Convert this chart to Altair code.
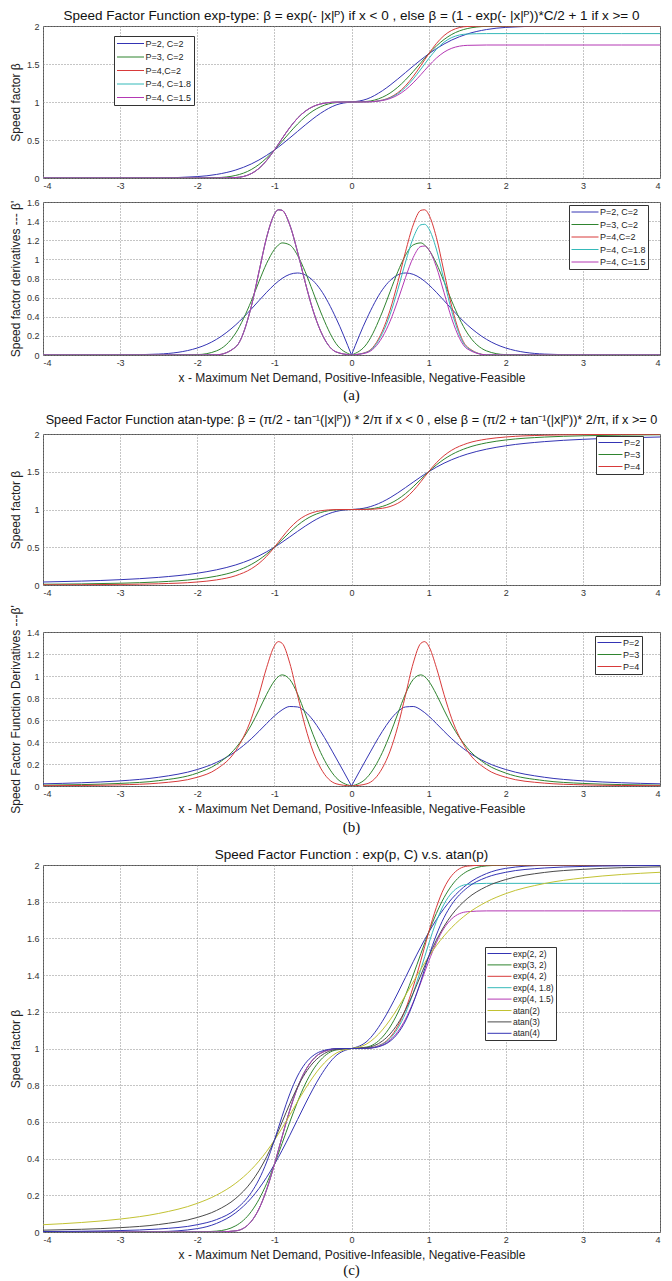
import altair as alt
import pandas as pd

# x grid (shared by every curve)
X = [-4, -3.5, -3, -2.5, -2, -1.75, -1.5, -1.3, -1.2, -1.1, -1, -0.95, -0.9, -0.8, -0.7, -0.6, -0.5, -0.4, -0.2, 0,
     0.2, 0.4, 0.5, 0.6, 0.7, 0.8, 0.9, 0.95, 1, 1.1, 1.2, 1.3, 1.5, 1.75, 2, 2.5, 3, 3.5, 4]

# (a) exp-type speed factor
EXP_P2_C2 = [0, 0, 0.0001, 0.0019, 0.0183, 0.0468, 0.1054, 0.1845, 0.2369, 0.2982, 0.3679, 0.4056, 0.4449, 0.5273, 0.6126, 0.6977, 0.7788, 0.8521, 0.9608, 1,
             1.0392, 1.1479, 1.2212, 1.3023, 1.3874, 1.4727, 1.5551, 1.5944, 1.6321, 1.7018, 1.7631, 1.8155, 1.8946, 1.9532, 1.9817, 1.9981, 1.9999, 2, 2]
EXP_P3_C2 = [0, 0, 0, 0, 0.0003, 0.0047, 0.0342, 0.1111, 0.1776, 0.2642, 0.3679, 0.4243, 0.4824, 0.5993, 0.7096, 0.8057, 0.8825, 0.9380, 0.9920, 1,
             1.0080, 1.0620, 1.1175, 1.1943, 1.2904, 1.4007, 1.5176, 1.5757, 1.6321, 1.7358, 1.8224, 1.8889, 1.9658, 1.9953, 1.9997, 2, 2, 2, 2]
EXP_P4_C2 = [0, 0, 0, 0, 0, 0.0001, 0.0063, 0.0575, 0.1257, 0.2313, 0.3679, 0.4428, 0.5189, 0.6639, 0.7866, 0.8784, 0.9394, 0.9747, 0.9984, 1,
             1.0016, 1.0253, 1.0606, 1.1216, 1.2134, 1.3361, 1.4811, 1.5572, 1.6321, 1.7687, 1.8743, 1.9425, 1.9937, 1.9999, 2, 2, 2, 2, 2]
EXP_P4_C18 = [0, 0, 0, 0, 0, 0.0001, 0.0063, 0.0575, 0.1257, 0.2313, 0.3679, 0.4428, 0.5189, 0.6639, 0.7866, 0.8784, 0.9394, 0.9747, 0.9984, 1,
              1.0014, 1.0228, 1.0545, 1.1094, 1.1921, 1.3025, 1.4330, 1.5015, 1.5689, 1.6918, 1.7869, 1.8483, 1.8943, 1.8999, 1.9, 1.9, 1.9, 1.9, 1.9]
EXP_P4_C15 = [0, 0, 0, 0, 0, 0.0001, 0.0063, 0.0575, 0.1257, 0.2313, 0.3679, 0.4428, 0.5189, 0.6639, 0.7866, 0.8784, 0.9394, 0.9747, 0.9984, 1,
              1.0012, 1.0190, 1.0455, 1.0912, 1.1601, 1.2521, 1.3608, 1.4179, 1.4741, 1.5765, 1.6557, 1.7069, 1.7453, 1.7499, 1.75, 1.75, 1.75, 1.75, 1.75]

# (a) exp-type derivatives
DEXP_P2_C2 = [0, 0, 0.0007, 0.0097, 0.0733, 0.1638, 0.3162, 0.4797, 0.5686, 0.6560, 0.7358, 0.7706, 0.8008, 0.8437, 0.8576, 0.8372, 0.7788, 0.6817, 0.3843, 0,
              0.3843, 0.6817, 0.7788, 0.8372, 0.8576, 0.8437, 0.8008, 0.7706, 0.7358, 0.6560, 0.5686, 0.4797, 0.3162, 0.1638, 0.0733, 0.0097, 0.0007, 0, 0]
DEXP_P3_C2 = [0, 0, 0, 0, 0.0040, 0.0432, 0.2309, 0.5633, 0.7672, 0.9590, 1.1036, 1.1488, 1.1722, 1.1507, 1.0431, 0.8702, 0.6619, 0.4502, 0.1190, 0,
              0.1190, 0.4502, 0.6619, 0.8702, 1.0431, 1.1507, 1.1722, 1.1488, 1.1036, 0.9590, 0.7672, 0.5633, 0.2309, 0.0432, 0.0040, 0, 0, 0, 0]
DEXP_P4_C2 = [0, 0, 0, 0, 0, 0.0018, 0.0854, 0.5053, 0.8688, 1.2314, 1.4715, 1.5186, 1.5131, 1.3597, 1.0792, 0.7589, 0.4697, 0.2495, 0.0319, 0,
              0.0319, 0.2495, 0.4697, 0.7589, 1.0792, 1.3597, 1.5131, 1.5186, 1.4715, 1.2314, 0.8688, 0.5053, 0.0854, 0.0018, 0, 0, 0, 0, 0]
DEXP_P4_C18 = [0, 0, 0, 0, 0, 0.0018, 0.0854, 0.5053, 0.8688, 1.2314, 1.4715, 1.5186, 1.5131, 1.3597, 1.0792, 0.7589, 0.4697, 0.2495, 0.0319, 0,
               0.0287, 0.2246, 0.4227, 0.6830, 0.9713, 1.2237, 1.3618, 1.3667, 1.3244, 1.1083, 0.7819, 0.4548, 0.0769, 0.0016, 0, 0, 0, 0, 0]
DEXP_P4_C15 = [0, 0, 0, 0, 0, 0.0018, 0.0854, 0.5053, 0.8688, 1.2314, 1.4715, 1.5186, 1.5131, 1.3597, 1.0792, 0.7589, 0.4697, 0.2495, 0.0319, 0,
               0.0239, 0.1871, 0.3523, 0.5692, 0.8094, 1.0198, 1.1348, 1.1390, 1.1036, 0.9236, 0.6516, 0.3790, 0.0641, 0.0014, 0, 0, 0, 0, 0]

# (b) atan-type speed factor
ATAN_P2 = [0.0397, 0.0518, 0.0705, 0.1011, 0.1560, 0.2011, 0.2662, 0.3401, 0.3862, 0.4398, 0.5, 0.5327, 0.5665, 0.6376, 0.7100, 0.7800, 0.8440, 0.8990, 0.9745, 1,
           1.0255, 1.1010, 1.1560, 1.2200, 1.2900, 1.3624, 1.4335, 1.4673, 1.5, 1.5602, 1.6138, 1.6599, 1.7338, 1.7989, 1.8440, 1.8989, 1.9295, 1.9482, 1.9603]
ATAN_P3 = [0.0099, 0.0148, 0.0236, 0.0407, 0.0792, 0.1175, 0.1834, 0.2720, 0.3340, 0.4102, 0.5, 0.5487, 0.5990, 0.6987, 0.7897, 0.8646, 0.9208, 0.9593, 0.9949, 1,
           1.0051, 1.0407, 1.0792, 1.1354, 1.2103, 1.3013, 1.4010, 1.4513, 1.5, 1.5898, 1.6660, 1.7280, 1.8166, 1.8825, 1.9208, 1.9593, 1.9764, 1.9852, 1.9901]
ATAN_P4 = [0.0025, 0.0042, 0.0079, 0.0163, 0.0397, 0.0676, 0.1241, 0.2144, 0.2861, 0.3814, 0.5, 0.5649, 0.6304, 0.7525, 0.8500, 0.9179, 0.9603, 0.9837, 0.9990, 1,
           1.0010, 1.0163, 1.0397, 1.0821, 1.1500, 1.2475, 1.3696, 1.4351, 1.5, 1.6186, 1.7139, 1.7856, 1.8759, 1.9324, 1.9603, 1.9837, 1.9921, 1.9958, 1.9975]

# (b) atan-type derivatives
DATAN_P2 = [0.0198, 0.0295, 0.0466, 0.0795, 0.1498, 0.2147, 0.3150, 0.4292, 0.4971, 0.5684, 0.6366, 0.6666, 0.6919, 0.7226, 0.7187, 0.6763, 0.5992, 0.4966, 0.2542, 0,
            0.2542, 0.4966, 0.5992, 0.6763, 0.7187, 0.7226, 0.6919, 0.6666, 0.6366, 0.5684, 0.4971, 0.4292, 0.3150, 0.2147, 0.1498, 0.0795, 0.0466, 0.0295, 0.0198]
DATAN_P3 = [0.0075, 0.0127, 0.0235, 0.0487, 0.1175, 0.1968, 0.3468, 0.5539, 0.6899, 0.8338, 0.9549, 0.9934, 1.0101, 0.9684, 0.8373, 0.6569, 0.4701, 0.3043, 0.0764, 0,
            0.0764, 0.3043, 0.4701, 0.6569, 0.8373, 0.9684, 1.0101, 0.9934, 0.9549, 0.8338, 0.6899, 0.5539, 0.3468, 0.1968, 0.1175, 0.0487, 0.0235, 0.0127, 0.0075]
DATAN_P4 = [0.0025, 0.0048, 0.0105, 0.0261, 0.0793, 0.1534, 0.3227, 0.6109, 0.8303, 1.0782, 1.2732, 1.3125, 1.2977, 1.1164, 0.8259, 0.5409, 0.3171, 0.1629, 0.0204, 0,
            0.0204, 0.1629, 0.3171, 0.5409, 0.8259, 1.1164, 1.2977, 1.3125, 1.2732, 1.0782, 0.8303, 0.6109, 0.3227, 0.1534, 0.0793, 0.0261, 0.0105, 0.0048, 0.0025]

# labels
EXP_NAMES = ["P=2, C=2", "P=3, C=2", "P=4,C=2", "P=4, C=1.8", "P=4, C=1.5"]
ATAN_NAMES = ["P=2", "P=3", "P=4"]
CMP_NAMES = ["exp(2, 2)", "exp(3, 2)", "exp(4, 2)", "exp(4, 1.8)", "exp(4, 1.5)", "atan(2)", "atan(3)", "atan(4)"]
X_TICKS = [-4, -3, -2, -1, 0, 1, 2, 3, 4]

BLUE, GREEN, RED, CYAN, MAG, YEL, GRAY = "#3434b4", "#2f842f", "#d83a3a", "#35b9b9", "#b438b4", "#c2c232", "#4a4a4a"
EXP_COLORS = [BLUE, GREEN, RED, CYAN, MAG]
ATAN_COLORS = [BLUE, GREEN, RED]
CMP_COLORS = [BLUE, GREEN, RED, CYAN, MAG, YEL, GRAY, BLUE]

X_TITLE = "x - Maximum Net Demand, Positive-Infeasible, Negative-Feasible"
FONT = "Liberation Sans"
W = 617


def long_table(names, arrays):
    rows = []
    for k, (name, ys) in enumerate(zip(names, arrays)):
        for xv, yv in zip(X, ys):
            if xv <= 0:
                rows.append({"x": xv, "y": yv, "s": name, "half": f"{k}L"})
            if xv >= 0:
                rows.append({"x": xv, "y": yv, "s": name, "half": f"{k}R"})
    return pd.DataFrame(rows)


def panel(names, arrays, colors, ydom, yticks, ytitle, height, lx, ly,
          title=None, toff=5, tsize=13.5, xtitle=None, sym=81, rowpad=3.0, lpad=2.5, lfont=9, loff=19):
    df = long_table(names, arrays)
    xaxis = alt.Axis(values=X_TICKS, title=xtitle,
                     labelExpr="datum.value < 0 ? '-' + format(-datum.value, '~g') : format(datum.value, '~g')")
    legend = alt.Legend(title=None, orient="none", legendX=lx, legendY=ly,
                        symbolType="M-1,0H5", symbolSize=sym, symbolStrokeWidth=1,
                        labelOffset=loff, labelFontSize=lfont, labelFont=FONT, labelColor="#222",
                        rowPadding=rowpad, padding=lpad, strokeColor="#333", fillColor="white",
                        cornerRadius=0)
    ch = alt.Chart(df).mark_line(strokeWidth=1, interpolate="monotone", clip=True).encode(
        x=alt.X("x:Q", scale=alt.Scale(domain=[-4, 4], nice=False), axis=xaxis),
        y=alt.Y("y:Q", scale=alt.Scale(domain=ydom, nice=False, zero=False),
                axis=alt.Axis(values=yticks, format="~g", title=ytitle)),
        color=alt.Color("s:N", scale=alt.Scale(domain=names, range=colors), legend=legend, sort=names),
        detail="half:N",
    ).properties(width=W, height=height)
    if title:
        ch = ch.properties(title=alt.TitleParams(title, frame="group", offset=toff, fontSize=tsize))
    return ch


def spacer(height, label=None, ypos=40):
    if label is None:
        df = pd.DataFrame({"t": [""]})
    else:
        df = pd.DataFrame({"t": [label]})
    return alt.Chart(df).mark_text(font="Liberation Serif", fontSize=15, color="#111", baseline="middle").encode(
        text="t:N", x=alt.value(W / 2), y=alt.value(ypos)
    ).properties(width=W, height=height, view=alt.ViewBackground(strokeOpacity=0))


T1 = "Speed Factor Function exp-type: β = exp(- |x|ᴾ)  if x < 0 , else β = (1 - exp(- |x|ᴾ))*C/2 + 1  if x >= 0"
T3 = "Speed Factor Function atan-type: β = (π/2 - tan⁻¹(|x|ᴾ)) * 2/π  if x < 0 , else β = (π/2 +  tan⁻¹(|x|ᴾ))* 2/π,  if x >= 0"
T5 = "Speed Factor Function : exp(p, C) v.s. atan(p)"

p1 = panel(EXP_NAMES, [EXP_P2_C2, EXP_P3_C2, EXP_P4_C2, EXP_P4_C18, EXP_P4_C15], EXP_COLORS,
           [0, 2], [0, 0.5, 1, 1.5, 2], "Speed factor β", 152, 71, 10, title=T1, toff=0,
           rowpad=3.5, lpad=2.5)
p2 = panel(EXP_NAMES, [DEXP_P2_C2, DEXP_P3_C2, DEXP_P4_C2, DEXP_P4_C18, DEXP_P4_C15], EXP_COLORS,
           [0, 1.6], [0, 0.2, 0.4, 0.6, 0.8, 1, 1.2, 1.4, 1.6], "Speed factor derivatives --- β'", 153, 526, 3,
           xtitle=X_TITLE, rowpad=2.5, lpad=2)
p3 = panel(ATAN_NAMES, [ATAN_P2, ATAN_P3, ATAN_P4], ATAN_COLORS,
           [0, 2], [0, 0.5, 1, 1.5, 2], "Speed factor β", 151, 553, 2, title=T3, toff=3, tsize=12.7,
           sym=64, rowpad=2, lpad=2, loff=17)
p4 = panel(ATAN_NAMES, [DATAN_P2, DATAN_P3, DATAN_P4], ATAN_COLORS,
           [0, 1.4], [0, 0.2, 0.4, 0.6, 0.8, 1, 1.2, 1.4], "Speed Factor Function Derivatives ---β'", 154, 552, 4,
           xtitle=X_TITLE, sym=64, rowpad=2, lpad=2, loff=17)
p5 = panel(CMP_NAMES, [EXP_P2_C2, EXP_P3_C2, EXP_P4_C2, EXP_P4_C18, EXP_P4_C15, ATAN_P2, ATAN_P3, ATAN_P4], CMP_COLORS,
           [0, 2], [0, 0.2, 0.4, 0.6, 0.8, 1, 1.2, 1.4, 1.6, 1.8, 2], "Speed factor β", 367, 442, 82, title=T5, toff=0,
           xtitle=X_TITLE, sym=64, rowpad=2.4, lpad=2, lfont=8.5, loff=17)

chart = alt.vconcat(
    p1, spacer(24), p2, spacer(79, "(a)", 40), p3, spacer(47), p4, spacer(79, "(b)", 41), p5, spacer(48, "(c)", 38),
    spacing=0, bounds="flush",
).resolve_scale(
    x="independent", y="independent", color="independent"
).resolve_legend(
    color="independent"
).properties(
    padding={"left": 0, "top": 0, "right": 0, "bottom": 0}
).configure_view(
    stroke="#555", strokeWidth=1
).configure_axis(
    grid=True, gridDash=[1, 2], gridColor="#8a8a8a", gridWidth=1, ticks=False, domain=False,
    labelFont=FONT, labelFontSize=9, labelColor="#333",
    titleFont=FONT, titleFontSize=12, titleFontWeight="normal", titleColor="#222",
).configure_axisX(
    labelPadding=3, titlePadding=5
).configure_axisY(
    labelPadding=4, titlePadding=4
).configure_title(
    font=FONT, fontSize=13.5, fontWeight="normal", color="#111", anchor="middle"
)

chart.save("out.html", embed_options={"renderer": "svg", "actions": False})
